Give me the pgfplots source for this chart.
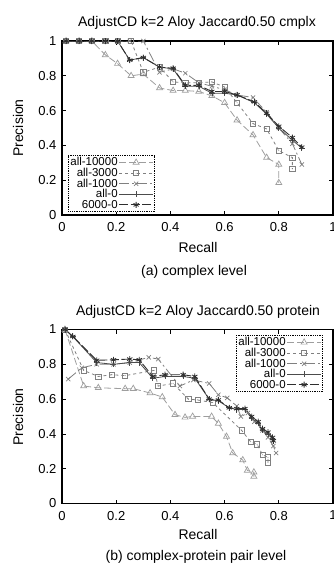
\documentclass[border=0pt]{standalone}
\usepackage{pgfplots}
\pgfplotsset{compat=1.18}
\usepackage{fontspec}
\setmainfont{Liberation Sans}
\definecolor{cA}{gray}{0.62}
\definecolor{cB}{gray}{0.50}
\definecolor{cC}{gray}{0.50}
\definecolor{cD}{gray}{0.30}
\definecolor{cE}{gray}{0.18}
\pgfdeclareplotmark{sqdot}{%
  \pgfpathrectangle{\pgfpoint{-\pgfplotmarksize}{-\pgfplotmarksize}}{\pgfpoint{2\pgfplotmarksize}{2\pgfplotmarksize}}%
  \pgfusepathqstroke
  \pgfpathcircle{\pgfpointorigin}{0.5pt}%
  \pgfusepathqfill}
\pgfplotsset{
  myaxis/.style={
    scale only axis, width=271bp, height=174bp,
    xmin=0, xmax=1, ymin=0, ymax=1,
    xtick={0,0.2,0.4,0.6,0.8,1}, ytick={0,0.2,0.4,0.6,0.8,1},
    tick align=inside, major tick length=4bp,
    axis line style={line width=1.3bp},
    tick style={black, line width=0.8bp},
    ticklabel style={font=\fontsize{13bp}{15bp}\selectfont},
    xticklabel style={yshift=-4bp},
    yticklabel style={xshift=-2bp},
    /pgf/number format/assume math mode=true,
    legend style={draw=black, densely dotted, line width=0.8bp,
      font=\fontsize{11.5bp}{11.5bp}\selectfont,
      inner sep=1bp, row sep=-1.2bp,
      nodes={inner sep=1bp}},
    legend cell align=right,
    legend plot pos=right,
    legend image code/.code={%
      \draw[mark repeat=2, mark phase=2, #1] plot coordinates {(0bp,0bp)(17bp,0bp)(34bp,0bp)};},
  },
  sA/.style={color=cA, line width=0.8bp, dash pattern=on 7bp off 3bp, mark=triangle, mark size=3.5bp, mark options={solid, line width=0.7bp}},
  sB/.style={color=cB, line width=0.8bp, dash pattern=on 3bp off 3bp, mark=sqdot, mark size=2.6bp, mark options={solid, line width=0.7bp}},
  sC/.style={color=cC, line width=0.8bp, dash pattern=on 10bp off 3bp on 2bp off 3bp, mark=x, mark size=3bp, mark options={solid, line width=0.7bp}},
  sD/.style={color=cD, line width=0.8bp, mark=+, mark size=3bp, mark options={solid, line width=0.7bp}},
  sE/.style={color=cE, line width=0.9bp, dash pattern=on 9bp off 2.5bp, mark=asterisk, mark size=3bp, mark options={solid, line width=0.8bp}},
}
\begin{document}
\begin{tikzpicture}
\useasboundingbox (0bp,0bp) rectangle (334bp,-568bp);
% ---------- top panel ----------
\begin{axis}[myaxis, at={(62bp,-215bp)}, anchor=south west,
  legend style={at={(rel axis cs:0.022,0.017)}, anchor=south west}]
\addplot[sA] coordinates {(0.015,1)(0.063,1)(0.11,1)(0.16,0.92)(0.205,0.87)(0.255,0.80)(0.30,0.81)(0.36,0.73)(0.41,0.715)(0.455,0.715)(0.505,0.71)(0.553,0.685)(0.60,0.645)(0.646,0.545)(0.705,0.46)(0.755,0.33)(0.80,0.29)(0.80,0.185)};
\addlegendentry{all-10000}
\addplot[sB] coordinates {(0.015,1)(0.063,1)(0.11,1)(0.16,1)(0.205,1)(0.255,1)(0.30,0.82)(0.36,0.85)(0.41,0.765)(0.455,0.76)(0.505,0.76)(0.553,0.765)(0.60,0.735)(0.646,0.645)(0.705,0.525)(0.755,0.495)(0.80,0.37)(0.85,0.33)(0.85,0.265)};
\addlegendentry{all-3000}
\addplot[sC] coordinates {(0.015,1)(0.063,1)(0.11,1)(0.16,1)(0.205,1)(0.25,1)(0.30,1)(0.36,0.82)(0.41,0.84)(0.455,0.815)(0.505,0.76)(0.553,0.74)(0.60,0.72)(0.646,0.69)(0.705,0.675)(0.755,0.59)(0.80,0.50)(0.85,0.41)(0.885,0.29)};
\addlegendentry{all-1000}
\addplot[sD] coordinates {(0.015,1)(0.063,1)(0.11,1)(0.16,1)(0.205,1)(0.25,0.89)(0.30,0.905)(0.36,0.85)(0.41,0.84)(0.455,0.74)(0.505,0.74)(0.553,0.70)(0.60,0.70)(0.646,0.69)(0.71,0.645)(0.755,0.58)(0.80,0.50)(0.85,0.43)(0.885,0.385)};
\addlegendentry{all-0}
\addplot[sE] coordinates {(0.015,1)(0.063,1)(0.11,1)(0.16,1)(0.205,1)(0.25,0.89)(0.30,0.905)(0.36,0.85)(0.41,0.843)(0.455,0.745)(0.505,0.745)(0.553,0.71)(0.60,0.71)(0.646,0.69)(0.71,0.65)(0.755,0.585)(0.80,0.51)(0.85,0.445)(0.885,0.39)};
\addlegendentry{6000-0}
\end{axis}
\node[font=\fontsize{14bp}{16bp}\selectfont] at (197bp,-23bp) {AdjustCD k=2 Aloy Jaccard0.50 cmplx};
\node[font=\fontsize{14bp}{16bp}\selectfont] at (198bp,-247bp) {Recall};
\node[font=\fontsize{14bp}{16bp}\selectfont, rotate=90] at (18bp,-128bp) {Precision};
\node[font=\fontsize{14bp}{16bp}\selectfont] at (194bp,-272bp) {(a) complex level};
% ---------- bottom panel ----------
\begin{axis}[myaxis, at={(62bp,-503.5bp)}, anchor=south west,
  legend style={at={(rel axis cs:0.963,0.968)}, anchor=north east}]
\addplot[sA] coordinates {(0.011,1.0)(0.08,0.675)(0.134,0.665)(0.233,0.66)(0.263,0.66)(0.325,0.635)(0.37,0.612)(0.417,0.51)(0.454,0.495)(0.482,0.50)(0.552,0.50)(0.577,0.46)(0.607,0.385)(0.63,0.29)(0.667,0.25)(0.684,0.19)(0.708,0.18)(0.708,0.155)};
\addlegendentry{all-10000}
\addplot[sB] coordinates {(0.011,1.0)(0.08,0.765)(0.134,0.73)(0.183,0.74)(0.233,0.735)(0.34,0.765)(0.355,0.675)(0.41,0.69)(0.466,0.60)(0.50,0.595)(0.556,0.58)(0.663,0.42)(0.696,0.355)(0.72,0.34)(0.74,0.28)(0.76,0.265)(0.76,0.235)};
\addlegendentry{all-3000}
\addplot[sC] coordinates {(0.023,0.715)(0.073,0.78)(0.128,0.80)(0.19,0.80)(0.25,0.81)(0.32,0.84)(0.355,0.83)(0.435,0.675)(0.485,0.71)(0.543,0.69)(0.577,0.625)(0.61,0.607)(0.645,0.56)(0.66,0.50)(0.686,0.52)(0.71,0.47)(0.74,0.42)(0.76,0.38)(0.78,0.33)(0.79,0.29)};
\addlegendentry{all-1000}
\addplot[sD] coordinates {(0.011,1.0)(0.04,0.96)(0.128,0.81)(0.19,0.80)(0.25,0.81)(0.285,0.81)(0.335,0.72)(0.38,0.73)(0.447,0.73)(0.49,0.72)(0.543,0.60)(0.577,0.59)(0.617,0.55)(0.645,0.54)(0.675,0.54)(0.70,0.49)(0.724,0.46)(0.74,0.42)(0.76,0.40)(0.777,0.37)};
\addlegendentry{all-0}
\addplot[sE] coordinates {(0.011,1.0)(0.04,0.96)(0.128,0.823)(0.19,0.826)(0.25,0.83)(0.285,0.826)(0.335,0.73)(0.38,0.74)(0.447,0.74)(0.49,0.73)(0.543,0.60)(0.577,0.595)(0.617,0.55)(0.645,0.545)(0.675,0.545)(0.70,0.50)(0.724,0.47)(0.74,0.43)(0.76,0.41)(0.777,0.38)(0.78,0.36)};
\addlegendentry{6000-0}
\end{axis}
\node[font=\fontsize{14bp}{16bp}\selectfont] at (198bp,-312bp) {AdjustCD k=2 Aloy Jaccard0.50 protein};
\node[font=\fontsize{14bp}{16bp}\selectfont] at (198bp,-534bp) {Recall};
\node[font=\fontsize{14bp}{16bp}\selectfont, rotate=90] at (18bp,-417bp) {Precision};
\node[font=\fontsize{14bp}{16bp}\selectfont] at (196bp,-557bp) {(b) complex-protein pair level};
\end{tikzpicture}
\end{document}
